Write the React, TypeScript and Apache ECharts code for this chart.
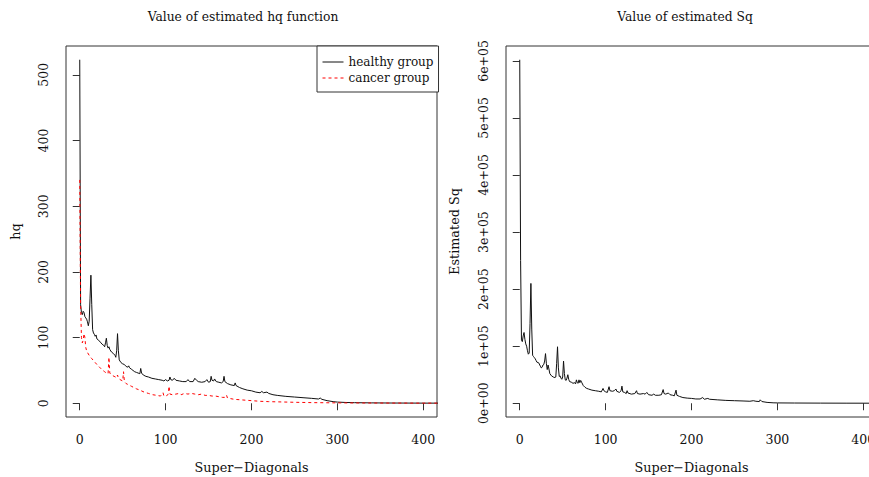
import React, { useEffect, useRef } from "react";
import * as echarts from "echarts";

// ---- data ----
const xTicks = [0, 100, 200, 300, 400];
const hqTicks = [0, 100, 200, 300, 400, 500];
const sqTicks = [0, 100000, 200000, 300000, 400000, 500000, 600000];

const healthyX = [0, 1, 2, 3, 4, 5, 6, 7, 8, 9, 10, 11, 12, 13, 14, 15, 16, 17, 18, 19, 20, 22, 24, 26, 28, 29, 30, 31, 32, 33, 34, 35, 37, 39, 41, 42, 43, 44, 45, 46, 48, 50, 52, 54, 56, 57, 58, 60, 62, 64, 66, 68, 70, 71, 72, 74, 77, 80, 84, 88, 92, 96, 98, 100, 102, 104, 105, 106, 108, 110, 112, 116, 120, 124, 126, 128, 132, 134, 136, 138, 142, 146, 148, 150, 152, 153, 154, 156, 157, 159, 162, 165, 167, 168, 169, 172, 176, 180, 181, 182, 186, 190, 195, 200, 205, 210, 212, 214, 218, 220, 225, 230, 240, 250, 260, 270, 278, 280, 282, 288, 295, 300, 310, 320, 340, 360, 380, 400, 430];
const healthyY = [523, 150, 138, 135, 140, 138, 132, 130, 128, 124, 118, 125, 160, 195, 150, 112, 107, 105, 102, 104, 98, 96, 93, 90, 88, 86, 92, 99, 88, 84, 86, 82, 78, 76, 73, 70, 80, 106, 80, 66, 62, 60, 59, 56, 55, 57, 54, 52, 50, 48, 47, 46, 45, 53, 46, 43, 41, 40, 38, 37, 36, 35, 34, 36, 34, 35, 40, 36, 35, 38, 35, 34, 33, 33, 36, 33, 33, 38, 35, 33, 32, 33, 36, 32, 33, 41, 35, 34, 37, 33, 32, 31, 33, 41, 33, 30, 28, 27, 31, 27, 24, 22, 20, 19, 17, 16, 18, 16, 17, 15, 13, 12, 10.5, 9.5, 8.5, 7.5, 6.5, 8, 6, 4, 2.5, 1.8, 1.2, 0.9, 0.6, 0.4, 0.3, 0.2, 0.2];

const cancerX = [0, 1, 2, 3, 4, 5, 6, 7, 8, 10, 12, 14, 16, 18, 20, 23, 26, 29, 31, 33, 34, 35, 37, 40, 43, 44, 45, 47, 50, 51, 52, 54, 57, 60, 63, 66, 70, 75, 80, 85, 90, 94, 97, 98, 101, 103, 104, 105, 108, 112, 116, 118, 122, 126, 130, 134, 138, 142, 146, 150, 154, 158, 162, 166, 170, 171, 172, 176, 180, 190, 200, 210, 220, 235, 250, 270, 300, 340, 400, 430];
const cancerY = [340, 150, 100, 92, 96, 106, 100, 85, 80, 75, 71, 68, 65, 62, 59, 55, 51, 48, 46, 45, 70, 46, 43, 41, 39, 43, 38, 36, 34, 48, 33, 30, 28, 26, 24, 22, 20, 17, 15, 13, 12, 11, 16, 11, 11, 14, 26, 14, 13, 14, 15, 13, 15, 14, 15, 14, 13, 14, 12, 12, 11, 11, 10, 9, 9, 12, 8, 7, 6, 5, 4, 3, 2.5, 2, 1.5, 1, 0.6, 0.4, 0.2, 0.2];

const sqX = [0, 1, 2, 3, 4, 5, 6, 7, 8, 9, 10, 11, 12, 13, 14, 15, 16, 17, 18, 19, 20, 22, 24, 25, 26, 27, 28, 29, 30, 31, 32, 33, 34, 35, 37, 39, 41, 42, 43, 44, 45, 46, 47, 48, 49, 50, 51, 52, 53, 54, 55, 56, 57, 58, 60, 62, 64, 65, 66, 67, 68, 69, 70, 71, 72, 74, 76, 78, 80, 84, 88, 92, 95, 97, 98, 100, 102, 104, 105, 108, 110, 112, 113, 116, 118, 119, 120, 122, 124, 125, 126, 130, 134, 136, 137, 140, 144, 146, 148, 150, 154, 156, 158, 162, 165, 167, 168, 170, 173, 175, 178, 180, 182, 183, 186, 190, 195, 200, 205, 210, 213, 215, 219, 221, 230, 240, 250, 260, 268, 272, 275, 279, 280, 282, 288, 295, 300, 320, 350, 380, 400, 430];
const sqY = [602000, 250000, 111000, 108000, 118000, 124000, 112000, 104000, 100000, 92000, 86000, 88000, 140000, 210000, 130000, 84000, 82000, 80000, 78000, 75000, 72000, 71000, 65000, 62000, 63000, 67000, 68000, 74000, 87000, 70000, 59000, 67000, 60000, 52000, 48000, 46000, 45000, 46000, 70000, 99000, 62000, 47000, 48000, 44000, 42000, 46000, 74000, 52000, 41000, 40000, 44000, 50000, 42000, 38000, 37000, 35000, 36000, 34000, 41000, 36000, 35000, 41000, 36000, 40000, 37000, 31000, 28000, 26000, 25000, 23000, 22000, 21000, 20000, 26000, 22000, 20000, 19000, 29000, 22000, 21000, 22000, 25000, 21000, 19000, 22000, 30000, 20000, 19000, 17000, 22000, 18000, 16000, 17000, 22000, 17000, 16000, 17000, 16000, 19000, 15000, 14000, 16000, 14000, 14000, 15000, 24000, 17000, 16000, 18000, 15000, 14000, 13000, 23000, 14000, 12000, 10000, 9000, 8500, 7500, 7500, 10000, 7000, 8500, 7000, 6000, 5000, 4500, 4000, 3500, 4500, 3500, 3000, 6000, 3000, 1500, 800, 600, 400, 250, 150, 100, 100];

const legendNames = ["healthy group", "cancer group"];

const FONT = "DejaVu Serif";
const TXT = "#111";
const BOX = "#333";

function pairs(xs: number[], ys: number[]) {
  return xs.map((x, i) => [x, ys[i]]);
}

function sciLabel(v: number) {
  if (v === 0) return "0e+00";
  const e = Math.floor(Math.log10(v));
  const m = Math.round(v / Math.pow(10, e));
  return `${m}e+${String(e).padStart(2, "0")}`;
}

export default function App() {
  const ref = useRef<HTMLDivElement>(null);
  useEffect(() => {
    if (!ref.current) return;
    const chart = echarts.init(ref.current, undefined, { renderer: "svg" });
    const labelStyle = { fontFamily: FONT, fontSize: 12.5, color: TXT };
    const nameStyle = { fontFamily: FONT, fontSize: 12.8, color: TXT };
    const xAxisBase = (gridIndex: number) => ({
      type: "value",
      gridIndex,
      min: -16,
      max: 416,
      name: "Super\u2212Diagonals",
      nameLocation: "middle",
      nameGap: 44,
      nameTextStyle: nameStyle,
      axisLine: { show: false },
      axisTick: { show: true, length: 7, customValues: xTicks, lineStyle: { color: BOX } },
      axisLabel: { ...labelStyle, margin: 16, customValues: xTicks, hideOverlap: false },
      splitLine: { show: false },
    });
    chart.setOption({
      animation: false,
      backgroundColor: "#fff",
      grid: [
        { left: 66, top: 46, width: 371, height: 371, show: true, borderColor: BOX, borderWidth: 1, backgroundColor: "transparent", containLabel: false, outerBoundsMode: "none" },
        { left: 506, top: 46, width: 371, height: 371, show: true, borderColor: BOX, borderWidth: 1, backgroundColor: "transparent", containLabel: false, outerBoundsMode: "none" },
      ],
      xAxis: [xAxisBase(0), xAxisBase(1)],
      yAxis: [
        {
          type: "value",
          gridIndex: 0,
          min: -20.9,
          max: 543.9,
          name: "hq",
          nameLocation: "middle",
          nameGap: 44,
          nameTextStyle: nameStyle,
          axisLine: { show: false },
          axisTick: { show: true, length: 7, customValues: hqTicks, lineStyle: { color: BOX } },
          axisLabel: { ...labelStyle, margin: 16, rotate: 90, customValues: hqTicks },
          splitLine: { show: false },
        },
        {
          type: "value",
          gridIndex: 1,
          min: -24080,
          max: 626080,
          name: "Estimated Sq",
          nameLocation: "middle",
          nameGap: 45,
          nameTextStyle: nameStyle,
          axisLine: { show: false },
          axisTick: { show: true, length: 7, customValues: sqTicks, lineStyle: { color: BOX } },
          axisLabel: { ...labelStyle, margin: 16, rotate: 90, customValues: sqTicks, formatter: (v: number) => sciLabel(v) },
          splitLine: { show: false },
        },
      ],
      legend: {
        data: legendNames,
        orient: "vertical",
        left: 317,
        top: 46,
        itemWidth: 21,
        itemHeight: 14,
        itemGap: 2,
        padding: [9, 5, 7, 5],
        borderColor: BOX,
        borderWidth: 1,
        borderRadius: 0,
        backgroundColor: "#fff",
        itemStyle: { opacity: 0 },
        lineStyle: { width: 1 },
        textStyle: { fontFamily: FONT, fontSize: 12, color: TXT, lineHeight: 14 },
      },
      graphic: [
        { type: "text", x: 243, y: 17, style: { text: "Value of estimated hq function", font: `12.3px "${FONT}"`, fill: TXT, textAlign: "center", textVerticalAlign: "middle" } },
        { type: "text", x: 685, y: 17, style: { text: "Value of estimated Sq", font: `12.3px "${FONT}"`, fill: TXT, textAlign: "center", textVerticalAlign: "middle" } },
      ],
      series: [
        {
          name: legendNames[0],
          type: "line",
          xAxisIndex: 0,
          yAxisIndex: 0,
          data: pairs(healthyX, healthyY),
          symbol: "none",
          clip: true,
          lineStyle: { color: "#111", width: 1 },
          itemStyle: { color: "#111" },
        },
        {
          name: legendNames[1],
          type: "line",
          xAxisIndex: 0,
          yAxisIndex: 0,
          data: pairs(cancerX, cancerY),
          symbol: "none",
          clip: true,
          lineStyle: { color: "#ff0000", width: 1, type: [3, 3] },
          itemStyle: { color: "#ff0000" },
        },
        {
          name: "Sq",
          type: "line",
          xAxisIndex: 1,
          yAxisIndex: 1,
          data: pairs(sqX, sqY),
          symbol: "none",
          clip: true,
          lineStyle: { color: "#111", width: 1 },
          itemStyle: { color: "#111" },
        },
      ],
    });
    return () => chart.dispose();
  }, []);
  return <div ref={ref} style={{ position: "fixed", left: 0, top: 0, width: 869, height: 477 }} />;
}
